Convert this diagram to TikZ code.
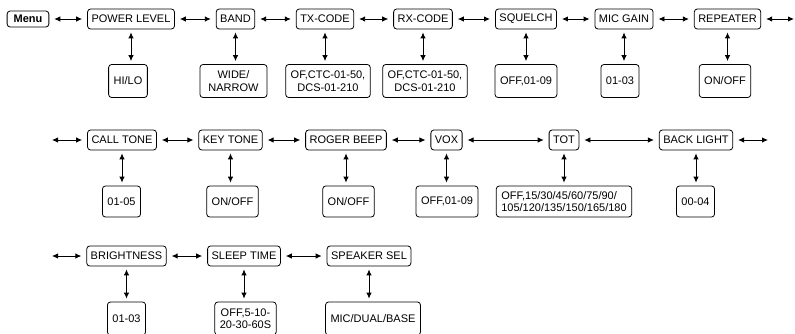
\documentclass[tikz,border=0pt]{standalone}
\usepackage{fontspec}
\setmainfont{Liberation Sans}
\usetikzlibrary{arrows.meta,positioning}

\begin{document}
\begin{tikzpicture}[x=1pt, y=-1pt,
	every node/.style={font=\fontsize{11}{12.5}\selectfont},
	item/.style={draw, line width=0.8pt, rounded corners=3pt, inner xsep=4pt, inner ysep=0pt, minimum height=20pt},
	value/.style={draw, line width=0.8pt, rounded corners=3pt, inner xsep=5pt, inner ysep=2pt, minimum height=33pt, align=center},
	link/.style={line width=0.9pt, {Latex[length=6pt,width=5.5pt]}-{Latex[length=6pt,width=5.5pt]}, shorten <=5pt, shorten >=5pt},
	vlink/.style={link, shorten <=3pt, shorten >=3pt}]
	\useasboundingbox (0,0) rectangle (795,333);
	\clip (0,0) rectangle (795,333);

	\node[item, font=\fontsize{11}{12.5}\selectfont\bfseries, minimum height=16pt, inner xsep=6.5pt] (menu) at (28,19) {Menu};
	\node[item] (power) at (131,19) {POWER LEVEL};
	\node[item] (band) at (235.5,19) {BAND};
	\node[item] (txcode) at (325,19) {TX-CODE};
	\node[item] (rxcode) at (423,19) {RX-CODE};
	\node[item] (squelch) at (526,19) {SQUELCH};
	\node[item] (micgain) at (624,19) {MIC GAIN};
	\node[item] (repeater) at (727.5,19) {REPEATER};
	\coordinate (rowend1) at (799,19);

	\node[value] (powerval) at (128,81) {HI/LO};
	\node[value, minimum width=67pt] (bandval) at (233.5,81) {WIDE/\\NARROW};
	\node[value] (txval) at (328,81) {OF,CTC-01-50,\\DCS-01-210};
	\node[value] (rxval) at (425,81) {OF,CTC-01-50,\\DCS-01-210};
	\node[value] (squelchval) at (526,81) {OFF,01-09};
	\node[value] (micval) at (620,81) {01-03};
	\node[value] (repeaterval) at (725,81) {ON/OFF};

	\coordinate (rowstart2) at (47,140);
	\node[item] (calltone) at (122,140) {CALL TONE};
	\node[item] (keytone) at (230.5,140) {KEY TONE};
	\node[item] (roger) at (346,140) {ROGER BEEP};
	\node[item] (vox) at (446.5,140) {VOX};
	\node[item] (tot) at (564,140) {TOT};
	\node[item] (backlight) at (696,140) {BACK LIGHT};
	\coordinate (rowend2) at (773,140);

	\node[value, minimum height=31pt] (callval) at (121.5,201.5) {01-05};
	\node[value, minimum height=31pt] (keyval) at (232.5,201.5) {ON/OFF};
	\node[value, minimum height=31pt] (rogerval) at (348.5,201.5) {ON/OFF};
	\node[value, minimum height=31pt] (voxval) at (447,201.5) {OFF,01-09};
	\node[value, minimum height=31pt, align=left] (totval) at (564,201.5) {OFF,15/30/45/60/75/90/\\105/120/135/150/165/180};
	\node[value, minimum height=31pt] (backval) at (695.5,201.5) {00-04};

	\coordinate (rowstart3) at (47,256);
	\node[item] (bright) at (126.5,256) {BRIGHTNESS};
	\node[item] (sleep) at (244,256) {SLEEP TIME};
	\node[item] (speaker) at (369,256) {SPEAKER SEL};

	\node[value] (brightval) at (126.5,318.5) {01-03};
	\node[value] (sleepval) at (245.5,318.5) {OFF,5-10-\\20-30-60S};
	\node[value] (speakerval) at (373,318.5) {MIC/DUAL/BASE};

	\draw[link] (menu) -- (power);
	\draw[link] (power) -- (band);
	\draw[link] (band) -- (txcode);
	\draw[link] (txcode) -- (rxcode);
	\draw[link] (rxcode) -- (squelch);
	\draw[link] (squelch) -- (micgain);
	\draw[link] (micgain) -- (repeater);
	\draw[link] (repeater) -- (rowend1);

	\draw[link] (rowstart2) -- (calltone);
	\draw[link] (calltone) -- (keytone);
	\draw[link] (keytone) -- (roger);
	\draw[link] (roger) -- (vox);
	\draw[link] (vox) -- (tot);
	\draw[link] (tot) -- (backlight);
	\draw[link] (backlight) -- (rowend2);

	\draw[link] (rowstart3) -- (bright);
	\draw[link] (bright) -- (sleep);
	\draw[link] (sleep) -- (speaker);

	\foreach \top/\bottom in {power/powerval, band/bandval, txcode/txval, rxcode/rxval, squelch/squelchval, micgain/micval, repeater/repeaterval, calltone/callval, keytone/keyval, roger/rogerval, vox/voxval, tot/totval, backlight/backval, bright/brightval, sleep/sleepval, speaker/speakerval}
		\draw[vlink] (\top) -- (\top |- \bottom.north);
\end{tikzpicture}
\end{document}
